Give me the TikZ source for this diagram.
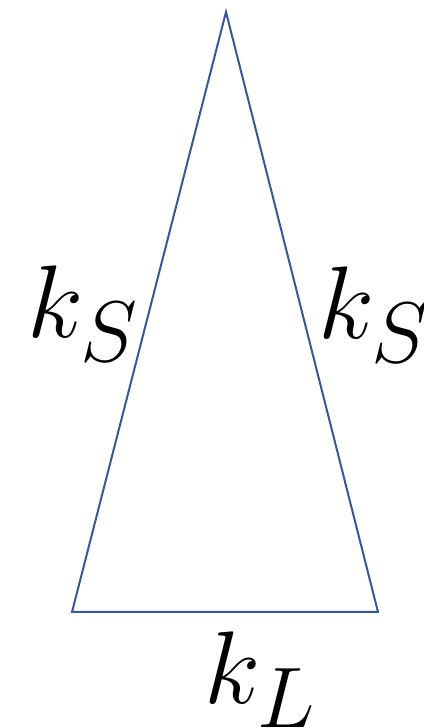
\documentclass[tikz,border=0pt]{standalone}
\usepackage{tikz}
\usetikzlibrary{positioning}
\definecolor{edgeblue}{HTML}{3556A2}

\begin{document}
\begin{tikzpicture}[x=1pt, y=1pt,
  sidelabel/.style={inner sep=0pt, font=\Huge, scale=4.15}]

\def\W{423}       % picture width (pt)
\def\H{728}       % picture height (pt)
\useasboundingbox (0,0) rectangle (\W,\H);

% --- Corners of the triangle ---
\coordinate (apex)  at (226,716);
\coordinate (baseL) at (72,116);
\coordinate (baseR) at (378,116);

% --- Outline ---
\draw[edgeblue, line width=2pt, line join=miter] (apex) -- (baseL) -- (baseR) -- cycle;

% --- Side labels ---
\node[sidelabel, anchor=base west] (kSleft)  at (27,390) {$k_S$};
\node[sidelabel, anchor=base west] (kSright) at (318,389) {$k_S$};
\node[sidelabel, anchor=base west] (kLbase)  at (204,24)  {$k_L$};

\end{tikzpicture}
\end{document}
